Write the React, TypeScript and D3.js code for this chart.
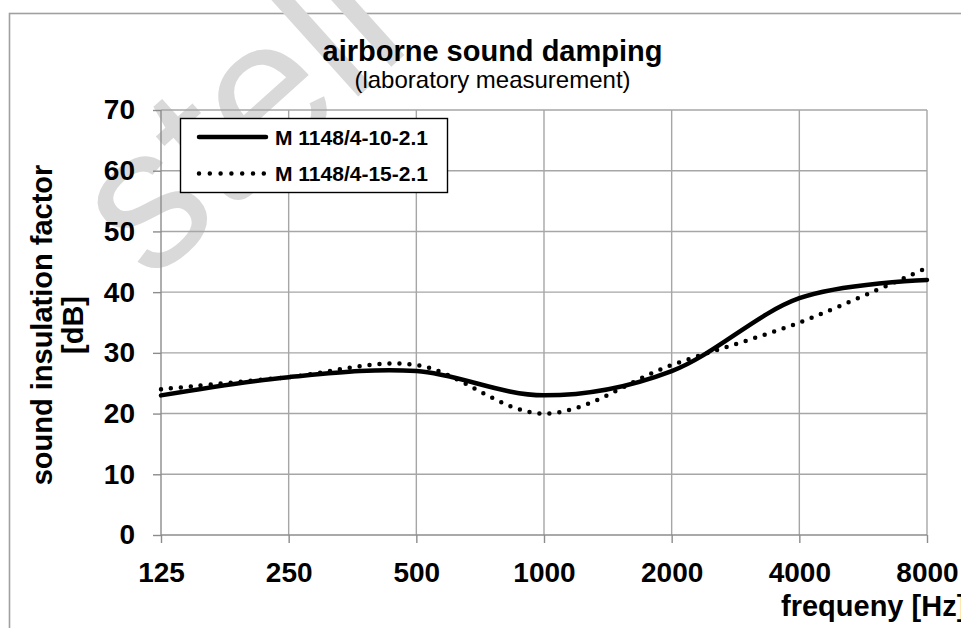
import React, { useRef, useEffect } from "react";
import * as d3 from "d3";

// octave band centre frequencies [Hz]
const frequencies = [125, 250, 500, 1000, 2000, 4000, 8000];
// sound insulation factor [dB] per product
const seriesA = [23, 26, 27, 23, 27, 39, 42]; // M 1148/4-10-2.1
const seriesB = [24, 26, 28, 20, 28, 35, 44]; // M 1148/4-15-2.1
const seriesNames = ["M 1148/4-10-2.1", "M 1148/4-15-2.1"];
const yTicks = [0, 10, 20, 30, 40, 50, 60, 70];

const W = 961;
const H = 628;
const FONT = "'Liberation Sans', Arial, Helvetica, sans-serif";

export default function App() {
  const svgRef = useRef<SVGSVGElement>(null);

  useEffect(() => {
    if (!svgRef.current) return;
    const svg = d3.select(svgRef.current);
    svg.selectAll("*").remove();

    const x = d3.scaleLog().base(2).domain([125, 8000]).range([161, 927]);
    const y = d3.scaleLinear().domain([0, 70]).range([535, 110]);

    // outer chart frame (runs off the right / bottom edge)
    svg
      .append("rect")
      .attr("x", 9.5)
      .attr("y", 13.5)
      .attr("width", 1000)
      .attr("height", 700)
      .attr("fill", "none")
      .attr("stroke", "#a0a0a0")
      .attr("stroke-width", 1.6);

    // watermark
    svg
      .append("text")
      .attr("transform", "translate(150,284) rotate(-42)")
      .attr("font-family", FONT)
      .attr("font-size", 200)
      .attr("fill", "#d9d9d9")
      .text("stell");

    // grid
    const grid = svg.append("g");
    grid
      .selectAll(".gy")
      .data(yTicks.slice(1))
      .join("line")
      .attr("x1", 161)
      .attr("x2", 927)
      .attr("y1", (d) => y(d))
      .attr("y2", (d) => y(d))
      .attr("stroke", "#a6a6a6")
      .attr("stroke-width", 1.4);
    grid
      .selectAll(".gx")
      .data(frequencies.slice(1))
      .join("line")
      .attr("x1", (d) => x(d))
      .attr("x2", (d) => x(d))
      .attr("y1", 110)
      .attr("y2", 535)
      .attr("stroke", "#a6a6a6")
      .attr("stroke-width", 1.4);

    // axes
    const yAxis = svg
      .append("g")
      .attr("transform", "translate(161,0)")
      .call(
        d3.axisLeft(y).tickValues(yTicks).tickSize(8).tickSizeOuter(0).tickPadding(18)
      );
    yAxis.select(".domain").attr("d", "M0,110V535").attr("stroke", "#8c8c8c").attr("stroke-width", 1.4);
    yAxis.selectAll(".tick line").attr("stroke", "#8c8c8c").attr("stroke-width", 1.4);
    yAxis
      .selectAll(".tick text")
      .attr("font-family", FONT)
      .attr("font-size", 28)
      .attr("font-weight", "bold")
      .attr("fill", "#000");

    const xAxis = svg
      .append("g")
      .attr("transform", "translate(0,535)")
      .call(
        d3
          .axisBottom(x)
          .tickValues(frequencies)
          .tickFormat((d) => String(d))
          .tickSize(8)
          .tickSizeOuter(0)
          .tickPadding(19)
      );
    xAxis.select(".domain").attr("d", "M161,0H927").attr("stroke", "#8c8c8c").attr("stroke-width", 1.4);
    xAxis.selectAll(".tick line").attr("stroke", "#8c8c8c").attr("stroke-width", 1.4);
    xAxis
      .selectAll(".tick text")
      .attr("font-family", FONT)
      .attr("font-size", 28)
      .attr("font-weight", "bold")
      .attr("fill", "#000");

    // smoothed lines
    const line = d3
      .line<number>()
      .x((_, i) => x(frequencies[i]))
      .y((d) => y(d))
      .curve(d3.curveCardinal.tension(0));

    svg
      .append("path")
      .datum(seriesB)
      .attr("d", line)
      .attr("fill", "none")
      .attr("stroke", "#000")
      .attr("stroke-width", 4.5)
      .attr("stroke-linecap", "round")
      .attr("stroke-dasharray", "0 10");

    svg
      .append("path")
      .datum(seriesA)
      .attr("d", line)
      .attr("fill", "none")
      .attr("stroke", "#000")
      .attr("stroke-width", 4.5)
      .attr("stroke-linecap", "round");

    // legend
    const lg = svg.append("g");
    lg.append("rect")
      .attr("x", 180.5)
      .attr("y", 118.5)
      .attr("width", 267)
      .attr("height", 74)
      .attr("fill", "#fff")
      .attr("stroke", "#000")
      .attr("stroke-width", 1.4);
    seriesNames.forEach((name, i) => {
      const ly = 137 + i * 36.5;
      lg.append("line")
        .attr("x1", 199)
        .attr("x2", 266)
        .attr("y1", ly)
        .attr("y2", ly)
        .attr("stroke", "#000")
        .attr("stroke-width", 4.5)
        .attr("stroke-linecap", "round")
        .attr("stroke-dasharray", i === 0 ? null : "0 10.8");
      lg.append("text")
        .attr("x", 275)
        .attr("y", ly + 7.5)
        .attr("font-family", FONT)
        .attr("font-size", 21)
        .attr("font-weight", "bold")
        .text(name);
    });

    // titles
    svg
      .append("text")
      .attr("x", 492.5)
      .attr("y", 61)
      .attr("text-anchor", "middle")
      .attr("font-family", FONT)
      .attr("font-size", 29)
      .attr("font-weight", "bold")
      .text("airborne sound damping");
    svg
      .append("text")
      .attr("x", 492.5)
      .attr("y", 88)
      .attr("text-anchor", "middle")
      .attr("font-family", FONT)
      .attr("font-size", 24)
      .text("(laboratory measurement)");

    const yt = svg
      .append("text")
      .attr("transform", "translate(52,325) rotate(-90)")
      .attr("text-anchor", "middle")
      .attr("font-family", FONT)
      .attr("font-size", 29)
      .attr("font-weight", "bold");
    yt.append("tspan").attr("x", 0).attr("y", 0).text("sound insulation factor");
    yt.append("tspan").attr("x", 0).attr("y", 31).text("[dB]");

    svg
      .append("text")
      .attr("x", 781)
      .attr("y", 616)
      .attr("font-family", FONT)
      .attr("font-size", 29)
      .attr("font-weight", "bold")
      .text("frequeny [Hz]");
  }, []);

  return (
    <svg
      ref={svgRef}
      width={W}
      height={H}
      style={{ position: "absolute", left: 0, top: 0, background: "#fff" }}
    />
  );
}
